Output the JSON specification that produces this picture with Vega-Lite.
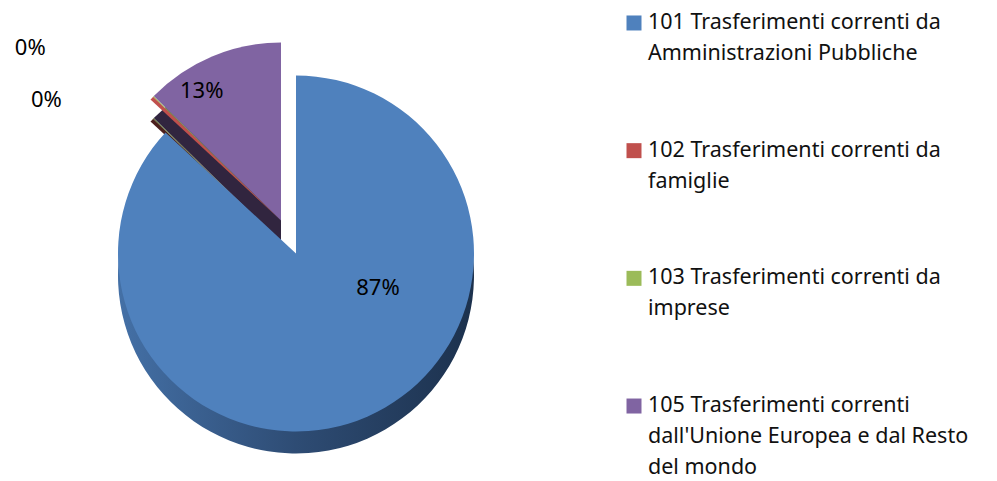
{
  "$schema": "https://vega.github.io/schema/vega-lite/v6.json",
  "padding": 0,
  "background": "white",
  "config": {"view": {"stroke": null}, "concat": {"spacing": 0}, "font": "Noto Sans"},
  "data": {"values": [
    {"code": "101", "label": "101 Trasferimenti correnti da\nAmministrazioni Pubbliche", "share": 0.869},
    {"code": "102", "label": "102 Trasferimenti correnti da\nfamiglie", "share": 0.0035},
    {"code": "103", "label": "103 Trasferimenti correnti da\nimprese", "share": 0.0008},
    {"code": "105", "label": "105 Trasferimenti correnti\ndall'Unione Europea e dal Resto\ndel mondo", "share": 0.1267}
  ]},
  "hconcat": [
    {
      "width": 580,
      "height": 481,
      "encoding": {
        "theta": {"field": "share", "type": "quantitative", "stack": true},
        "order": {"field": "code", "type": "ordinal"}
      },
      "layer": [
        {
          "mark": {"type": "arc", "outerRadius": 178, "xOffset": 6, "yOffset": 35, "color": {"gradient": "linear", "x1": 0, "y1": 0, "x2": 1, "y2": 0, "stops": [{"offset": 0, "color": "#4470a6"}, {"offset": 0.5, "color": "#2e4c74"}, {"offset": 1, "color": "#1c314d"}]}},
          "encoding": {"opacity": {"condition": {"test": "datum.code === '101'", "value": 1}, "value": 0}}
        },
        {
          "mark": {"type": "arc", "outerRadius": 178, "xOffset": -9, "yOffset": 2},
          "encoding": {
            "color": {"condition": [{"test": "datum.code === '102'", "value": "#4b1f1d"}, {"test": "datum.code === '103'", "value": "#5e7434"}], "value": "#31253f"},
            "opacity": {"condition": {"test": "datum.code !== '101'", "value": 1}, "value": 0}
          }
        },
        {
          "mark": {"type": "arc", "outerRadius": 178, "xOffset": 6, "yOffset": 13},
          "encoding": {
            "color": {"field": "code", "type": "nominal", "scale": {"domain": ["101", "102", "103", "105"], "range": ["#4F81BD", "#C0504D", "#9BBB59", "#8064A2"]}, "legend": null},
            "opacity": {"condition": {"test": "datum.code === '101'", "value": 1}, "value": 0}
          }
        },
        {
          "mark": {"type": "arc", "outerRadius": 178, "xOffset": -9, "yOffset": -20},
          "encoding": {
            "color": {"field": "code", "type": "nominal", "legend": null},
            "opacity": {"condition": {"test": "datum.code !== '101'", "value": 1}, "value": 0}
          }
        },
        {
          "mark": {"type": "text", "radius": 105, "xOffset": 6, "yOffset": 13, "dx": 40, "dy": -62, "fontSize": 22, "color": "black"},
          "encoding": {
            "text": {"field": "share", "type": "quantitative", "format": ".0%"},
            "opacity": {"condition": {"test": "datum.code === '101'", "value": 1}, "value": 0}
          }
        },
        {
          "mark": {"type": "text", "radius": 140, "xOffset": -9, "yOffset": -20, "dx": -25, "fontSize": 22, "color": "black"},
          "encoding": {
            "text": {"field": "share", "type": "quantitative", "format": ".0%"},
            "opacity": {"condition": {"test": "datum.code === '105'", "value": 1}, "value": 0}
          }
        },
        {
          "mark": {"type": "text", "radius": 140, "xOffset": -9, "yOffset": -20, "dy": -75, "dx": -135, "fontSize": 22, "color": "black", "align": "right"},
          "encoding": {
            "text": {"field": "share", "type": "quantitative", "format": ".0%"},
            "opacity": {"condition": {"test": "datum.code === '103'", "value": 1}, "value": 0}
          }
        },
        {
          "mark": {"type": "text", "radius": 200, "xOffset": -9, "yOffset": -20, "dy": 17, "dx": -74, "fontSize": 22, "color": "black", "align": "right"},
          "encoding": {
            "text": {"field": "share", "type": "quantitative", "format": ".0%"},
            "opacity": {"condition": {"test": "datum.code === '102'", "value": 1}, "value": 0}
          }
        }
      ]
    },
    {
      "width": 108,
      "height": 429,
      "encoding": {
        "y": {"field": "code", "type": "ordinal", "axis": null, "scale": {"type": "point", "padding": 0.18}}
      },
      "layer": [
        {
          "mark": {"type": "square", "size": 225, "opacity": 1},
          "encoding": {"color": {"field": "code", "type": "nominal", "legend": null}}
        },
        {
          "mark": {"type": "text", "align": "left", "baseline": "alphabetic", "dx": 14, "dy": 6, "lineBreak": "\n", "fontSize": 21.5, "lineHeight": 31, "color": "#111111"},
          "encoding": {"text": {"field": "label", "type": "nominal"}}
        }
      ]
    }
  ]
}
